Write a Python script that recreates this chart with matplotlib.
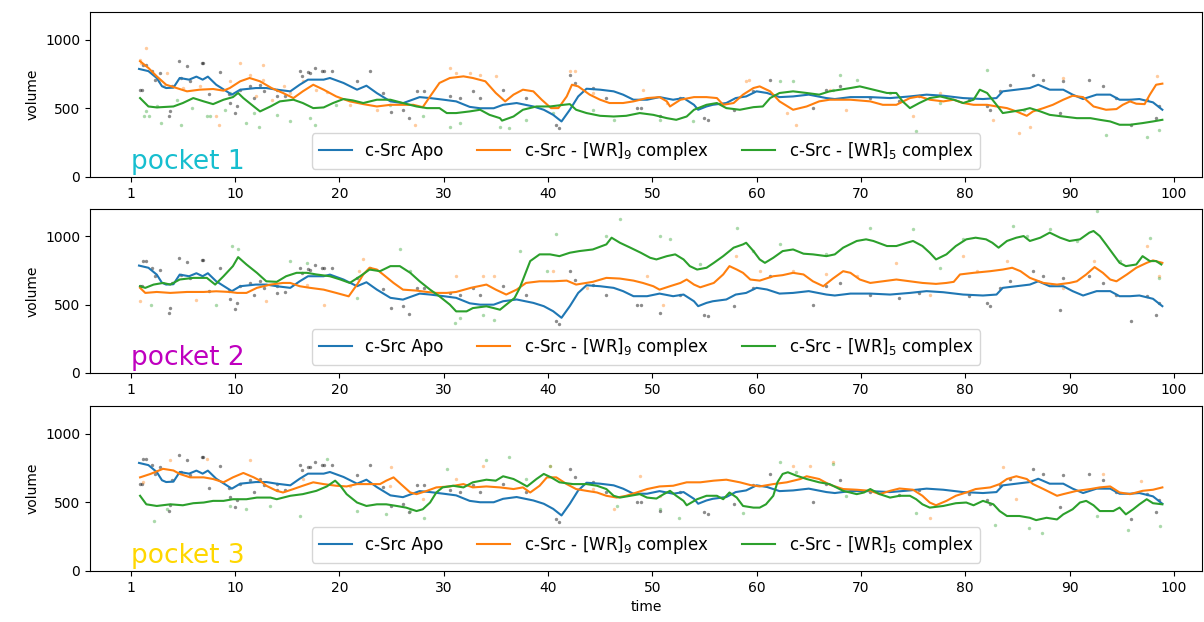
import matplotlib
matplotlib.use("Agg")
import matplotlib.pyplot as plt

# ---------------- data ----------------
tick_pos = [0, 10, 20, 30, 40, 50, 60, 70, 80, 90, 100]
tick_labels = ["1", "10", "20", "30", "40", "50", "60", "70", "80", "90", "100"]
labels = ["c-Src Apo", "c-Src - [WR]$_9$ complex", "c-Src - [WR]$_5$ complex"]
pocket_names = ["pocket 1", "pocket 2", "pocket 3"]
pocket_colors = ["tab:cyan", "m", "gold"]

# smoothed curves ------------------------------------------------
# Apo (identical in all pockets)
apo_t = [0.8, 1.7, 2.5, 3.0, 3.4, 4.1, 4.7, 5.6, 6.3, 6.9, 7.4, 8.2, 9.2, 9.7, 10.5, 12.0, 13.0, 14.0,
         15.3, 16.2, 17.0, 18.5, 19.1, 20.4, 21.7, 22.6, 23.6, 24.9, 26.1, 27.7, 28.7, 30.0, 31.2, 32.5,
         33.5, 34.8, 35.7, 37.0, 38.6, 39.6, 40.5, 41.3, 42.1, 42.9, 43.7, 45.0, 46.3, 47.2, 48.2, 49.5,
         50.7, 52.0, 53.0, 54.0, 54.4, 55.2, 55.8, 57.1, 58.0, 59.0, 60.0, 61.0, 62.2, 63.5, 65.0, 66.7,
         67.5, 69.0, 70.9, 72.8, 74.7, 76.3, 77.9, 79.8, 81.7, 83.0, 83.6, 84.9, 86.2, 87.0, 88.1, 89.4,
         90.3, 91.3, 92.6, 93.9, 94.8, 95.8, 96.7, 98.0, 98.9]
apo_v = [786, 770, 720, 660, 647, 650, 720, 708, 730, 708, 730, 671, 623, 599, 635, 647, 647, 635,
         623, 671, 708, 708, 720, 684, 635, 664, 610, 550, 537, 581, 574, 562, 550, 510,
         500, 500, 525, 538, 513, 489, 452, 404, 489, 586, 642, 635, 623, 599, 562, 562,
         581, 562, 574, 525, 489, 513, 525, 538, 574, 586, 623, 611, 581, 586, 599, 574,
         567, 581, 581, 574, 586, 599, 591, 574, 567, 574, 623, 635, 647, 671, 635, 635,
         599, 567, 599, 599, 562, 562, 567, 543, 489]

# pocket 1
p1_wr9_t = [0.9, 1.7, 2.5, 3.4, 4.4, 5.4, 6.6, 7.9, 8.9, 9.5, 10.5, 11.4, 12.4, 13.5, 14.6, 15.6, 16.5,
            17.5, 18.5, 19.7, 21.0, 22.3, 23.6, 24.9, 26.1, 27.1, 28.0, 28.7, 29.6, 30.6, 31.9, 32.8,
            34.0, 35.0, 35.9, 36.7, 37.6, 38.6, 39.4, 40.3, 41.0, 41.8, 42.3, 42.9, 44.0, 45.0, 45.9,
            47.2, 48.2, 49.5, 50.7, 51.4, 51.7, 52.7, 54.0, 55.2, 56.2, 56.8, 57.8, 58.7, 59.7, 60.3,
            61.3, 62.2, 63.5, 64.8, 66.0, 67.0, 69.0, 70.9, 72.1, 73.4, 74.7, 75.6, 76.6, 77.9, 78.9,
            79.8, 80.8, 82.1, 83.0, 84.0, 84.9, 85.9, 86.5, 87.5, 88.4, 89.4, 90.3, 91.3, 92.3, 93.5,
            94.5, 95.1, 95.8, 96.4, 97.2, 97.7, 98.3, 98.9]
p1_wr9_v = [842, 793, 732, 671, 647, 623, 635, 640, 628, 647, 696, 720, 696, 647, 611, 574, 623,
            671, 635, 586, 550, 530, 513, 525, 525, 525, 508, 586, 684, 720, 732, 720,
            696, 611, 550, 599, 635, 623, 562, 501, 501, 586, 671, 659, 599, 562, 538,
            538, 550, 574, 581, 550, 513, 562, 581, 581, 574, 525, 538, 599, 647, 659,
            623, 550, 489, 513, 550, 562, 562, 550, 525, 525, 574, 586, 562, 550, 562,
            538, 525, 525, 513, 501, 477, 445, 477, 501, 525, 562, 591, 581, 513, 489,
            494, 525, 550, 533, 530, 599, 671, 679]
p1_wr5_t = [0.9, 1.7, 2.5, 4.1, 5.0, 6.0, 7.0, 7.9, 8.9, 9.8, 10.3, 10.8, 11.8, 12.4, 13.4, 14.3, 15.6,
            16.5, 17.5, 18.5, 19.4, 20.4, 21.3, 22.3, 23.6, 24.9, 26.1, 27.4, 28.4, 29.6, 30.3, 31.2,
            32.5, 33.5, 34.4, 35.4, 35.6, 36.7, 37.6, 38.9, 40.2, 41.5, 42.1, 42.7, 43.7, 45.0, 46.3,
            47.5, 48.8, 50.1, 51.4, 52.3, 53.3, 54.0, 55.2, 56.2, 57.1, 58.4, 59.7, 60.6, 61.3, 62.2,
            63.5, 64.8, 66.0, 67.0, 68.0, 69.0, 69.9, 71.2, 72.5, 73.4, 74.0, 74.7, 75.6, 76.6, 77.6,
            78.9, 79.8, 80.8, 81.4, 82.1, 83.0, 83.6, 84.6, 85.6, 86.2, 87.2, 88.1, 89.4, 90.7, 92.0,
            92.9, 93.9, 94.8, 95.8, 97.0, 98.0, 98.9]
p1_wr5_v = [574, 513, 506, 513, 538, 574, 550, 530, 562, 581, 611, 574, 513, 477, 513, 550, 562,
            538, 501, 506, 538, 567, 557, 538, 562, 562, 538, 513, 501, 501, 465, 465,
            477, 489, 452, 428, 410, 440, 489, 513, 513, 525, 530, 489, 465, 445, 440,
            445, 465, 452, 428, 416, 440, 489, 525, 538, 501, 489, 508, 513, 574, 611,
            623, 611, 599, 623, 635, 647, 659, 635, 611, 611, 550, 501, 538, 574, 586,
            562, 538, 562, 635, 611, 525, 465, 477, 489, 501, 477, 452, 440, 428, 428,
            416, 404, 380, 380, 392, 404, 416]

# pocket 2
p2_wr9_t = [0.9, 1.4, 2.5, 3.8, 5.4, 7.0, 8.2, 9.5, 10.2, 11.1, 12.1, 13.4, 14.6, 15.3, 16.2, 17.2,
            18.5, 19.7, 20.9, 21.7, 22.3, 22.9, 23.6, 24.2, 25.2, 26.1, 27.4, 28.4, 29.3, 30.3, 31.2,
            32.6, 34.1, 35.0, 36.0, 37.0, 37.9, 39.2, 40.5, 41.8, 42.7, 44.3, 45.6, 46.9, 48.2, 49.1,
            50.1, 50.7, 51.7, 52.7, 53.3, 54.0, 54.6, 55.9, 56.8, 57.4, 58.1, 58.7, 59.4, 60.3, 61.6,
            62.5, 63.5, 64.5, 65.4, 66.4, 67.3, 68.3, 69.0, 69.9, 70.9, 72.1, 73.4, 74.7, 75.9, 77.2,
            78.2, 78.9, 79.5, 80.8, 82.4, 83.6, 84.5, 85.3, 86.2, 87.5, 88.8, 90.0, 90.7, 91.6, 92.4,
            93.2, 93.9, 94.5, 95.5, 96.4, 97.4, 98.0, 98.9]
p2_wr9_v = [623, 586, 593, 586, 593, 593, 598, 593, 586, 586, 623, 647, 659, 659, 635, 623,
            610, 586, 561, 647, 721, 770, 757, 721, 659, 610, 603, 593, 586, 586, 593,
            623, 647, 610, 574, 610, 659, 671, 671, 676, 647, 667, 696, 691, 676, 659,
            635, 610, 635, 659, 684, 647, 627, 659, 721, 782, 757, 733, 684, 676, 708,
            716, 733, 721, 671, 635, 690, 745, 733, 684, 659, 671, 684, 671, 659, 652,
            659, 667, 721, 733, 745, 757, 770, 745, 696, 659, 647, 659, 671, 721, 775,
            733, 684, 671, 721, 770, 806, 824, 806]
p2_wr5_t = [0.9, 1.4, 2.2, 3.1, 3.8, 4.7, 6.0, 7.3, 8.1, 8.9, 9.8, 10.3, 11.1, 12.1, 13.0, 14.0,
            14.9, 15.9, 16.9, 17.8, 19.1, 20.1, 21.0, 22.0, 22.9, 23.9, 24.9, 25.8, 26.8, 27.7,
            28.7, 29.6, 30.6, 31.2, 32.2, 32.8, 34.1, 34.8, 35.4, 36.0, 36.8, 37.3, 37.8, 38.3,
            39.2, 40.2, 41.1, 42.1, 43.0, 44.3, 45.6, 46.1, 46.9, 47.9, 48.9, 49.8, 50.4, 51.4,
            52.2, 53.0, 53.6, 54.3, 55.2, 55.9, 56.8, 57.8, 58.7, 59.0, 59.7, 60.3, 60.8, 61.6,
            62.5, 63.5, 64.5, 65.4, 66.7, 67.5, 68.3, 69.6, 70.5, 71.2, 72.5, 73.4, 74.4, 75.0,
            75.9, 76.6, 77.2, 78.2, 79.1, 80.1, 81.0, 82.0, 82.6, 83.2, 84.0, 84.9, 85.6, 86.2,
            87.2, 88.1, 89.1, 90.0, 91.0, 91.9, 92.3, 92.9, 93.5, 94.2, 94.8, 95.4, 96.4, 97.0,
            97.7, 98.3, 98.8]
p2_wr5_v = [635, 623, 647, 659, 647, 684, 696, 696, 647, 708, 782, 848, 794, 733, 671, 667,
            708, 733, 733, 721, 708, 684, 659, 708, 757, 745, 782, 782, 733, 671,
            610, 561, 500, 451, 451, 475, 488, 475, 463, 500, 549, 623, 721, 819,
            868, 868, 855, 880, 892, 904, 941, 990, 953, 917, 880, 843, 831, 855,
            868, 831, 782, 757, 770, 806, 855, 917, 941, 953, 892, 831, 806, 843,
            892, 904, 873, 868, 855, 868, 917, 966, 978, 966, 929, 929, 953, 966,
            929, 880, 831, 868, 929, 978, 990, 978, 953, 917, 966, 990, 1002, 966,
            990, 1027, 990, 966, 978, 1027, 1039, 1002, 941, 868, 806, 782, 794, 855,
            819, 819, 794]

# pocket 3
p3_wr9_t = [0.9, 1.9, 3.1, 4.1, 4.7, 5.7, 7.0, 7.9, 8.9, 9.8, 10.8, 11.8, 12.4, 13.0, 14.0, 14.6,
            15.6, 16.5, 17.5, 18.5, 19.7, 20.7, 21.7, 22.9, 23.9, 24.5, 25.2, 25.9, 26.8, 27.4,
            28.4, 29.3, 30.6, 31.9, 32.8, 34.1, 35.4, 36.7, 37.6, 38.3, 39.2, 39.9, 40.8, 41.8,
            42.7, 43.7, 44.7, 45.6, 46.6, 47.5, 48.5, 49.5, 50.7, 52.0, 53.3, 54.6, 55.9, 57.1,
            58.4, 59.4, 60.3, 61.6, 62.9, 64.2, 64.8, 66.0, 67.0, 68.3, 69.6, 70.9, 71.8, 72.8,
            73.7, 75.0, 75.9, 76.6, 77.2, 78.2, 79.1, 80.1, 81.0, 82.4, 83.3, 84.0, 84.9, 85.9,
            86.5, 87.5, 88.8, 89.4, 90.7, 92.0, 92.9, 93.9, 94.8, 95.8, 97.0, 98.0, 98.9]
p3_wr9_v = [681, 706, 743, 731, 706, 681, 681, 669, 645, 681, 713, 681, 657, 620, 583, 571,
            596, 620, 645, 632, 620, 615, 632, 632, 632, 657, 681, 632, 571, 559,
            583, 608, 615, 632, 608, 615, 608, 596, 608, 571, 620, 681, 681, 632,
            596, 583, 571, 547, 534, 547, 571, 596, 615, 620, 645, 645, 657, 664,
            645, 625, 615, 632, 645, 669, 689, 669, 628, 596, 591, 583, 559, 583,
            600, 591, 547, 498, 478, 510, 547, 571, 596, 608, 632, 669, 689, 669,
            632, 596, 547, 559, 583, 596, 608, 615, 571, 559, 583, 591, 608]
p3_wr5_t = [0.9, 1.5, 2.5, 3.8, 5.0, 6.0, 7.0, 7.9, 8.9, 9.8, 11.1, 12.1, 13.4, 14.0, 15.3, 16.5,
            17.8, 18.8, 19.6, 20.1, 20.7, 21.7, 22.6, 23.6, 24.5, 25.5, 26.4, 27.4, 28.0, 28.7,
            29.3, 29.9, 30.9, 31.9, 32.8, 34.1, 35.0, 35.7, 36.7, 37.3, 38.0, 38.9, 39.6, 40.3,
            41.1, 42.4, 43.7, 44.7, 45.6, 46.3, 46.9, 47.9, 48.8, 49.5, 50.4, 51.1, 51.7, 52.3,
            53.0, 53.3, 54.3, 55.2, 56.2, 56.8, 57.4, 58.1, 58.7, 59.7, 60.3, 60.9, 61.6, 62.0,
            62.5, 63.0, 63.8, 64.8, 66.0, 67.0, 68.3, 69.6, 70.3, 70.9, 71.8, 72.8, 73.7, 74.7,
            75.3, 75.9, 76.6, 77.9, 79.1, 80.1, 80.8, 81.7, 82.7, 83.3, 84.0, 85.2, 86.2, 86.8,
            87.8, 88.8, 89.4, 90.3, 91.0, 91.6, 92.3, 92.9, 94.2, 94.8, 95.4, 96.1, 96.7, 97.4,
            98.0, 98.9]
p3_wr5_v = [547, 485, 473, 485, 478, 493, 498, 510, 510, 522, 522, 534, 534, 522, 547, 559,
            583, 615, 657, 620, 559, 498, 473, 485, 485, 473, 461, 436, 449, 498,
            571, 608, 620, 608, 645, 664, 657, 689, 669, 645, 615, 669, 706, 681,
            645, 632, 632, 620, 596, 547, 534, 547, 559, 534, 527, 559, 583, 547,
            510, 478, 522, 547, 547, 522, 571, 534, 473, 461, 461, 485, 547, 645,
            706, 718, 694, 669, 645, 632, 583, 559, 571, 596, 559, 534, 547, 547,
            522, 485, 461, 473, 493, 498, 478, 510, 485, 436, 400, 400, 387, 370,
            387, 375, 412, 449, 498, 510, 478, 436, 436, 461, 412, 449, 485, 522,
            493, 485]

# raw (unsmoothed) points visible around the curves ----------------
apo_dot_t = [0.9, 2.0, 4.6, 6.8, 3.8, 9.5, 10.2, 11.8, 16.4, 17.2, 18.5, 19.3, 21.7, 22.9, 24.2, 26.1,
             27.4, 28.1, 30.6, 31.6, 14.0, 5.7, 32.8, 35.7, 40.8, 41.1, 42.1, 42.6, 45.6, 48.5, 52.7,
             55.3, 57.8, 61.3, 59.7, 66.7, 37.9, 50.7, 68.0, 73.7, 80.4, 83.3, 86.5, 87.5, 89.4,
             93.2, 94.5, 97.4, 98.6, 82.1, 33.5, 44.3, 48.9, 55.0, 65.4, 70.9, 75.6, 82.4, 84.3,
             89.1, 91.9, 95.9, 98.3, 1.5, 25.0, 26.7,
             1.2, 5.4, 6.9, 8.6, 2.8, 2.3, 1.1, 4.0, 4.8, 7.5, 9.4, 10.5, 11.4, 12.4, 12.8,
             14.0, 14.8, 16.2, 17.0, 17.7, 18.3, 3.7, 10.0]
apo_dot_v = [635, 769, 842, 830, 477, 538, 513, 574, 732, 757, 769, 769, 696, 769, 611, 489,
             623, 623, 586, 574, 635, 696, 623, 635, 380, 355, 745, 684, 574, 501, 574,
             416, 489, 708, 623, 635, 574, 440, 659, 550, 562, 623, 745, 708, 696,
             659, 574, 562, 513, 513, 574, 647, 500, 426, 500, 574, 586, 488, 672,
             463, 708, 377, 426, 816, 475, 430,
             818, 810, 830, 765, 757, 708, 635, 659, 720, 603, 603, 635, 660, 672, 623,
             586, 590, 769, 760, 793, 770, 440, 465]

p1_wr9_dot_t = [1.5, 0.9, 3.5, 9.5, 10.5, 11.4, 12.7, 15.3, 21.0, 23.6, 27.3, 30.6, 31.2, 6.6, 16.5,
                32.5, 33.5, 35.0, 42.1, 42.6, 49.1, 51.4, 59.0, 59.3, 63.8, 62.9, 44.3,
                67.0, 75.0, 77.6, 82.7, 85.2, 86.2, 89.4, 95.8, 98.4, 68.6,
                1.0, 12.7, 2.7, 3.2, 8.2, 8.5, 12.0, 14.7, 17.8, 18.8, 13.5, 5.0]
p1_wr9_dot_v = [939, 854, 757, 696, 830, 745, 708, 611, 525, 489, 380, 793, 757, 659, 696,
                757, 745, 732, 769, 769, 635, 538, 696, 708, 380, 465, 611,
                635, 440, 611, 416, 319, 367, 720, 562, 732, 489,
                832, 818, 696, 660, 440, 380, 590, 660, 635, 620, 562, 650]
p1_wr5_dot_t = [1.5, 2.5, 7.3, 11.1, 11.8, 14.0, 17.2, 19.7, 24.9, 28.0, 30.6, 31.6, 4.4, 9.5,
                35.4, 36.3, 37.9, 44.3, 46.3, 50.7, 53.9, 62.2, 63.5, 67.3, 40.5,
                68.0, 69.6, 72.8, 75.3, 82.1, 85.6, 93.5, 97.4, 98.6, 77.6,
                1.3, 1.8, 2.9, 4.8, 7.6, 12.3, 15.3, 17.7, 5.9, 9.0]
p1_wr5_dot_v = [477, 513, 440, 392, 465, 452, 428, 525, 525, 440, 367, 392, 562, 611,
                367, 355, 416, 489, 416, 416, 404, 696, 696, 635, 465,
                745, 708, 611, 331, 781, 489, 306, 294, 343, 538,
                440, 440, 392, 380, 440, 367, 404, 380, 504, 490]

p2_wr9_dot_t = [0.9, 6.3, 13.0, 18.5, 22.3, 21.9, 31.2, 16.9, 33.8, 34.8, 40.5, 43.7, 49.5, 58.0,
                60.3, 63.5, 66.7, 51.0, 69.6, 73.4, 79.8, 81.1, 84.0, 89.4, 92.3, 97.4, 98.6, 76.6]
p2_wr9_dot_v = [525, 537, 525, 500, 831, 745, 708, 647, 708, 708, 745, 623, 708, 855,
                745, 745, 721, 500, 708, 806, 855, 745, 819, 623, 819, 929, 708, 574]
p2_wr5_dot_t = [9.7, 10.3, 1.9, 8.2, 15.3, 16.9, 21.7, 25.8, 31.1, 31.6, 26.8, 33.8, 34.8, 37.3,
                40.8, 46.9, 45.6, 50.7, 51.7, 54.6, 58.1, 59.7, 62.2, 66.7, 39.9, 70.9, 75.0,
                77.6, 79.8, 84.6, 85.9, 88.1, 92.6, 90.7, 94.8, 97.7, 98.6]
p2_wr5_dot_v = [929, 904, 500, 500, 819, 806, 549, 904, 365, 402, 745, 426, 390, 892,
                1015, 1125, 1002, 1002, 978, 794, 1064, 892, 941, 868, 745, 1064, 1051,
                770, 978, 1076, 1002, 1051, 1186, 966, 819, 990, 696]

p3_wr9_dot_t = [3.8, 1.2, 7.3, 11.4, 16.5, 21.0, 25.0, 24.9, 28.0, 31.2, 33.8, 40.2, 44.3, 46.3,
                48.8, 50.7, 63.5, 65.1, 67.3, 76.6, 83.6, 93.2, 96.9, 84.9]
p3_wr9_dot_v = [804, 645, 816, 804, 669, 620, 755, 620, 522, 669, 767, 767, 596, 449,
                694, 547, 767, 767, 792, 387, 755, 706, 657, 522]
p3_wr5_dot_t = [2.2, 3.5, 9.5, 11.1, 13.4, 16.2, 18.8, 21.7, 24.5, 26.8, 28.1, 30.3, 34.1, 36.3,
                37.9, 40.2, 46.6, 50.7, 52.6, 58.7, 62.2, 63.8, 67.3, 68.6, 75.3, 82.9, 86.1,
                87.4, 92.6, 95.6, 98.7]
p3_wr5_dot_v = [363, 449, 473, 449, 473, 400, 816, 436, 412, 436, 387, 743, 804, 828,
                669, 767, 473, 449, 387, 424, 792, 718, 779, 547, 424, 338, 314,
                277, 400, 301, 326]

pockets = [
    [(apo_t, apo_v), (p1_wr9_t, p1_wr9_v), (p1_wr5_t, p1_wr5_v)],
    [(apo_t, apo_v), (p2_wr9_t, p2_wr9_v), (p2_wr5_t, p2_wr5_v)],
    [(apo_t, apo_v), (p3_wr9_t, p3_wr9_v), (p3_wr5_t, p3_wr5_v)],
]
pocket_dots = [
    [(apo_dot_t, apo_dot_v), (p1_wr9_dot_t, p1_wr9_dot_v), (p1_wr5_dot_t, p1_wr5_dot_v)],
    [(apo_dot_t, apo_dot_v), (p2_wr9_dot_t, p2_wr9_dot_v), (p2_wr5_dot_t, p2_wr5_dot_v)],
    [(apo_dot_t, apo_dot_v), (p3_wr9_dot_t, p3_wr9_dot_v), (p3_wr5_dot_t, p3_wr5_dot_v)],
]
line_colors = ["tab:blue", "tab:orange", "tab:green"]
dot_colors = ["black", "tab:orange", "tab:green"]
dot_alphas = [0.45, 0.4, 0.4]

# ---------------- figure ----------------
fig = plt.figure(figsize=(12.04, 6.22), dpi=100)
W, H = 1204, 622
boxes = [(12, 177), (209, 373), (406, 571)]
left_px, right_px = 90, 1202

for i, (top, bot) in enumerate(boxes):
    ax = fig.add_axes([left_px / W, 1 - bot / H, (right_px - left_px) / W, (bot - top) / H])
    for (t, v), c, a in zip(pocket_dots[i], dot_colors, dot_alphas):
        ax.scatter(t, v, s=6, color=c, alpha=a, linewidths=0, zorder=1)
    for (t, v), c, lab in zip(pockets[i], line_colors, labels):
        ax.plot(t, v, color=c, lw=1.5, label=lab, zorder=2)
    ax.set_xlim(-3.9, 102.7)
    ax.set_ylim(0, 1200)
    ax.set_yticks([0, 500, 1000])
    ax.set_xticks(tick_pos)
    ax.set_xticklabels(tick_labels)
    ax.set_ylabel("volume")
    ax.text(0, 55, pocket_names[i], color=pocket_colors[i], fontsize=19, ha="left", va="baseline")
    ax.legend(loc="lower center", ncol=3, fontsize=12)
    if i == 2:
        ax.set_xlabel("time")

fig.savefig("out.png", dpi=100)
